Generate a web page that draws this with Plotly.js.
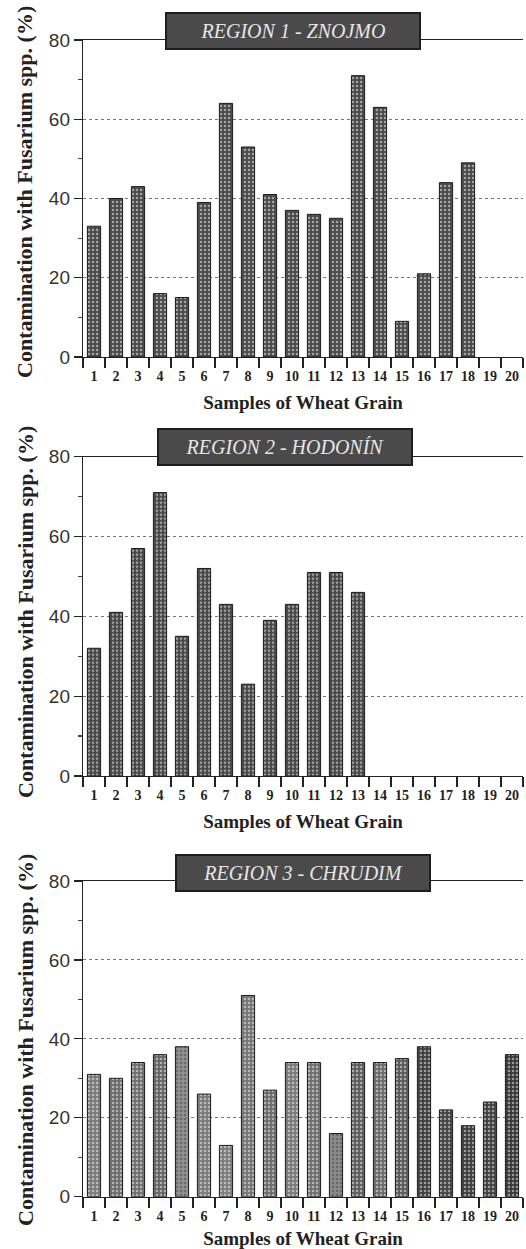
<!DOCTYPE html>
<html>
<head>
<meta charset="utf-8">
<script src="https://cdn.plot.ly/plotly-3.0.1.min.js"></script>
<style>
html,body{margin:0;padding:0;background:#fff;}
#chart{width:526px;height:1249px;}
</style>
</head>
<body>
<div id="chart"></div>
<script>
// ---- data ----
const samples = ['1','2','3','4','5','6','7','8','9','10','11','12','13','14','15','16','17','18','19','20'];
const region1Values = [33, 40, 43, 16, 15, 39, 64, 53, 41, 37, 36, 35, 71, 63, 9, 21, 44, 49, null, null];
const region2Values = [32, 41, 57, 71, 35, 52, 43, 23, 39, 43, 51, 51, 46, null, null, null, null, null, null, null];
const region3Values = [31, 30, 34, 36, 38, 26, 13, 51, 27, 34, 34, 16, 34, 34, 35, 38, 22, 18, 24, 36];
const regionTitles = ['REGION 1 - ZNOJMO', 'REGION 2 - HODONÍN', 'REGION 3 - CHRUDIM'];
const yTitle = 'Contamination with Fusarium spp. (%)';
const xTitle = 'Samples of Wheat Grain';

// ---- styling ----
const region1Colors = samples.map(() => '#4a4a4a');
const region2Colors = samples.map(() => '#464646');
const region3Colors = ['#7a7a7a','#6c6c6c','#6e6e6e','#666666','#909090','#7a7a7a','#7c7c7c','#757575','#6a6a6a','#7a7a7a',
                       '#6e6e6e','#8a8a8a','#5e5e5e','#6a6a6a','#5a5a5a','#404040','#454545','#3e3e3e','#404040','#3a3a3a'];

function barTrace(vals, colors, xa, ya) {
  return {
    type: 'bar', x: samples, y: vals, xaxis: xa, yaxis: ya,
    width: 0.6,
    marker: {
      color: colors,
      line: {color: '#1a1a1a', width: 1},
      pattern: {shape: '.', fillmode: 'overlay', fgcolor: '#cfcfcf', size: 4, solidity: 0.3}
    },
    hoverinfo: 'x+y', showlegend: false
  };
}

const data = [
  barTrace(region1Values, region1Colors, 'x', 'y'),
  barTrace(region2Values, region2Colors, 'x2', 'y2'),
  barTrace(region3Values, region3Colors, 'x3', 'y3')
];

const H = 1249;
const L = 83, PW = 440;
const panels = [[40, 357], [456.7, 776], [881, 1196.7]];
const domains = panels.map(p => [1 - p[1] / H, 1 - p[0] / H]);

function xAxis(anchor) {
  return {
    type: 'category', categoryorder: 'array', categoryarray: samples,
    range: [-0.5, 19.5], anchor: anchor, domain: [0, 1],
    tickson: 'boundaries', ticks: 'outside', ticklen: 10, tickwidth: 1.2, tickcolor: '#222',
    tickangle: 0, ticklabelstandoff: 6,
    showline: true, linecolor: '#222', linewidth: 1.2, mirror: true,
    showgrid: false, zeroline: false,
    tickfont: {family: 'Liberation Serif', size: 14, color: '#222', weight: 'bold'},
    title: {text: '<b>' + xTitle + '</b>', font: {family: 'Liberation Serif', size: 19, color: '#222'}, standoff: 12},
    fixedrange: true
  };
}
function yAxis(anchor, dom) {
  return {
    range: [0, 80], anchor: anchor, domain: dom,
    tickvals: [0, 20, 40, 60, 80], ticks: 'outside', ticklen: 8, tickwidth: 1.2, tickcolor: '#222',
    minor: {tickvals: [10, 30, 50, 70], ticks: 'outside', ticklen: 4, tickcolor: '#444', showgrid: false},
    showline: true, linecolor: '#222', linewidth: 1.2,
    showgrid: true, gridcolor: '#777', griddash: 'dot', gridwidth: 1,
    zeroline: false,
    tickfont: {family: 'Liberation Sans', size: 19, color: '#333'},
    fixedrange: true
  };
}

const titleBoxes = [[293, 30.5], [285, 447], [303, 873]];
const annotations = regionTitles.map((t, i) => ({
  text: '<i>' + t + '</i>', xref: 'paper', yref: 'paper',
  x: (titleBoxes[i][0] - L) / PW, y: 1 - titleBoxes[i][1] / H,
  xanchor: 'center', yanchor: 'middle', showarrow: false,
  bgcolor: '#4a4a4a', bordercolor: '#1e1e1e', borderwidth: 2,
  width: 250, height: 32,
  font: {family: 'Liberation Serif', size: 20, color: '#e6e6e6'}
}));
// y-axis titles, placed as rotated text left of each panel
const yTitleCenters = [192, 612, 1040];
yTitleCenters.forEach(cy => {
  annotations.push({
    text: '<b>' + yTitle + '</b>', xref: 'paper', yref: 'paper',
    x: (25 - L) / PW, y: 1 - cy / H, xanchor: 'center', yanchor: 'middle',
    textangle: -90, showarrow: false,
    font: {family: 'Liberation Serif', size: 22, color: '#222'}
  });
});

const layout = {
  width: 526, height: 1249,
  margin: {l: L, r: 3, t: 0, b: 0},
  paper_bgcolor: '#fff', plot_bgcolor: '#fff',
  bargap: 0.4,
  xaxis: xAxis('y'), yaxis: yAxis('x', domains[0]),
  xaxis2: xAxis('y2'), yaxis2: yAxis('x2', domains[1]),
  xaxis3: xAxis('y3'), yaxis3: yAxis('x3', domains[2]),
  annotations: annotations,
  showlegend: false
};

Plotly.newPlot('chart', data, layout, {staticPlot: true, displayModeBar: false});
</script>
</body>
</html>
